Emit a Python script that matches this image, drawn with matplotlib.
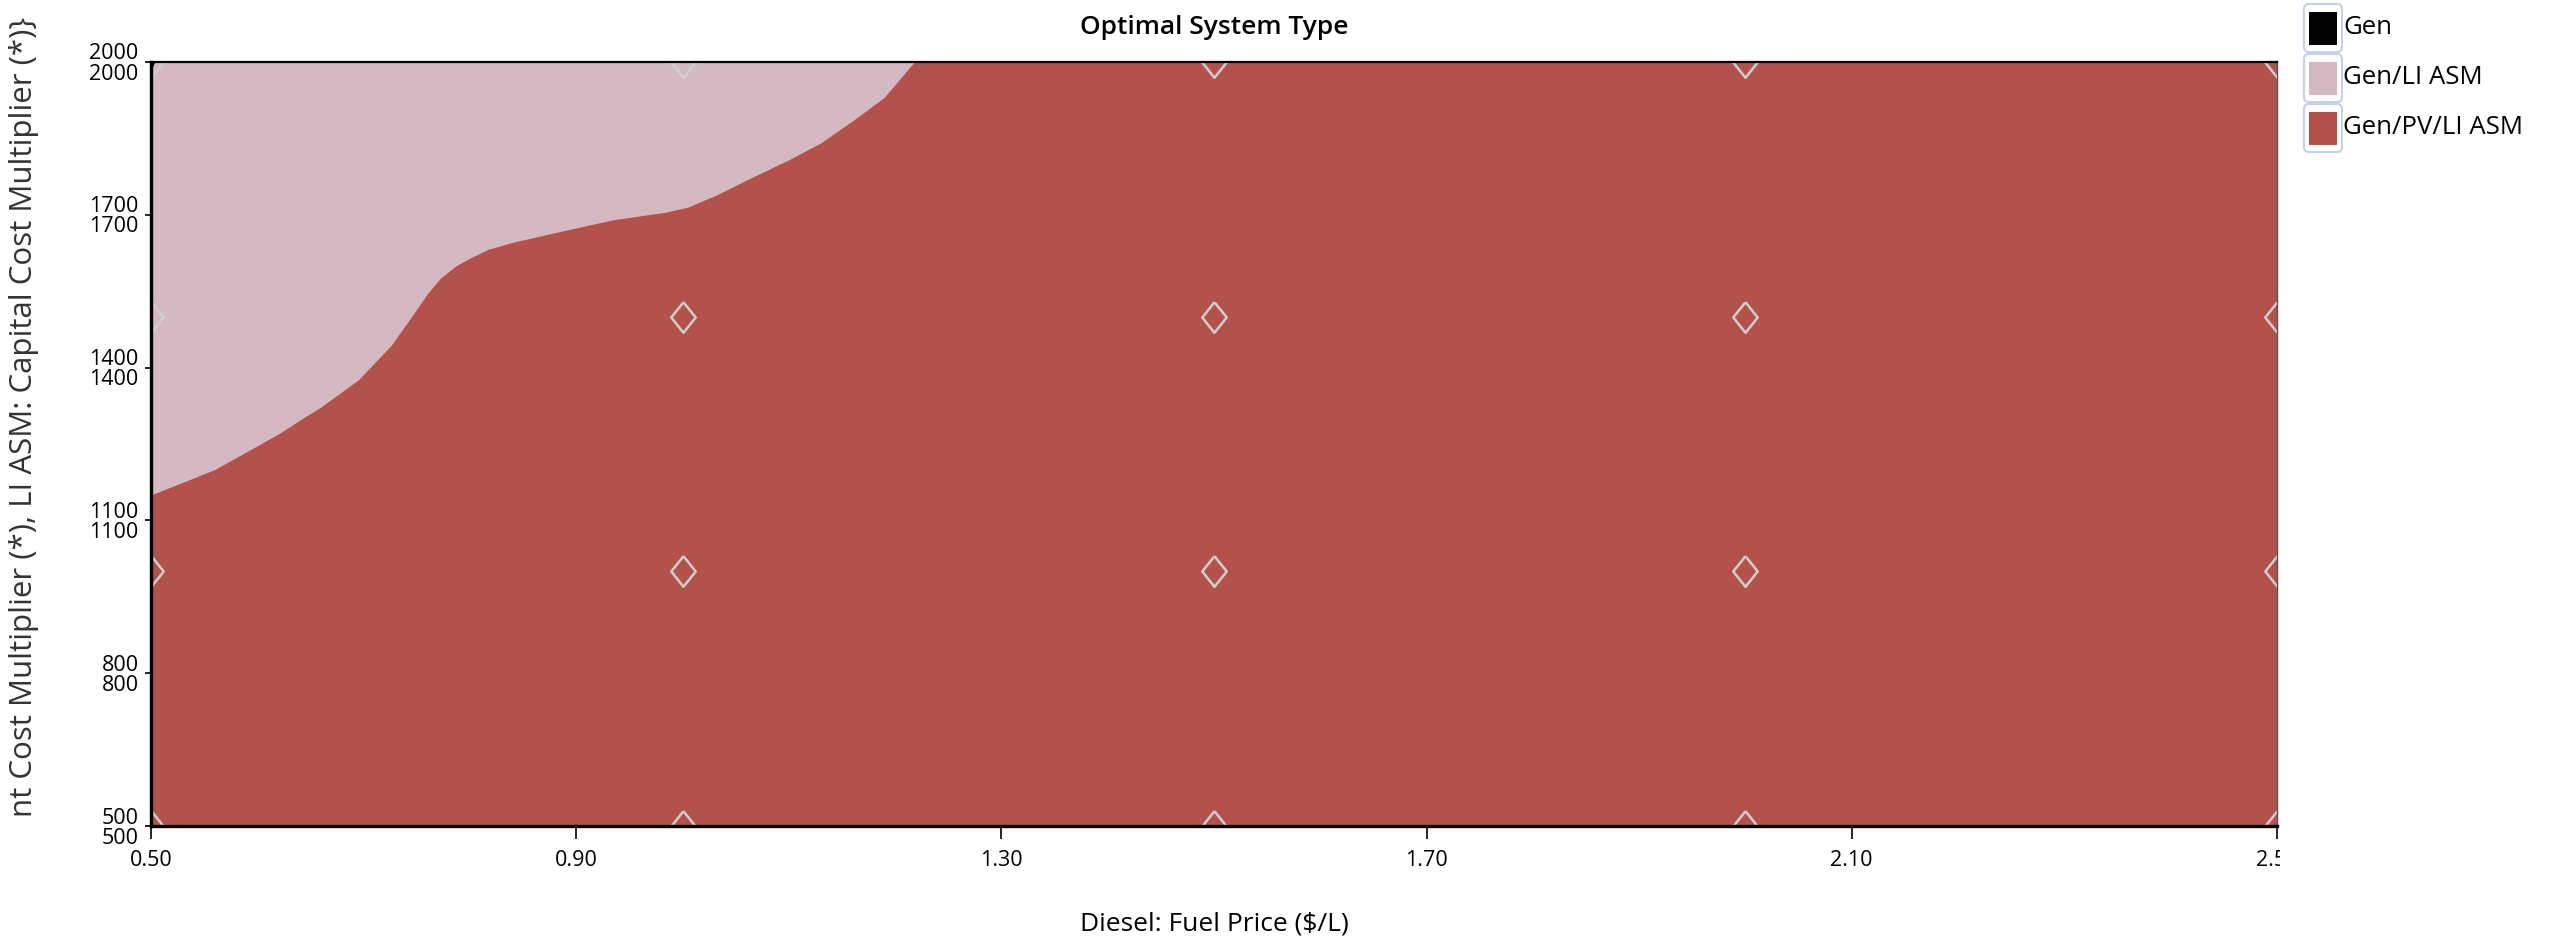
import matplotlib
matplotlib.use("Agg")
import matplotlib.pyplot as plt
import numpy as np
from matplotlib.patches import FancyBboxPatch, Rectangle
from matplotlib.transforms import Bbox, TransformedBbox

# sensitivity grid points (HOMER optimal system type plot)
fuel_price = [0.50, 1.00, 1.50, 2.00, 2.50]
capital_mult = [500, 1000, 1500, 2000]

# boundary between Gen/LI ASM (above) and Gen/PV/LI ASM (below)
boundary_price = [0.50, 0.53, 0.56, 0.59, 0.62, 0.64, 0.66, 0.695, 0.726, 0.745,
                  0.76, 0.772, 0.787, 0.80, 0.817, 0.84, 0.878, 0.934, 0.984, 1.005,
                  1.032, 1.06, 1.10, 1.13, 1.165, 1.19, 1.218]
boundary_mult = [1150, 1175, 1200, 1235, 1270, 1297, 1323, 1376, 1444, 1500,
                 1545, 1575, 1600, 1615, 1632, 1646, 1664, 1690, 1705, 1715,
                 1739, 1768, 1808, 1841, 1892, 1931, 2000]

system_types = ["Gen", "Gen/LI ASM", "Gen/PV/LI ASM"]
type_colors = ["#000000", "#d4b9c2", "#b2524a"]

xtick_values = [0.50, 0.90, 1.30, 1.70, 2.10, 2.50]
ytick_values = [500, 800, 1100, 1400, 1700, 2000]

plt.rcParams["font.family"] = ["Open Sans", "DejaVu Sans"]

fig = plt.figure(figsize=(25.52, 9.43), dpi=100)
ax = fig.add_axes([0.0592, 0.124, 0.8330, 0.8103])

# background region: Gen/PV/LI ASM, then Gen/LI ASM above the boundary
ax.fill_between([fuel_price[0], fuel_price[-1]], capital_mult[0], capital_mult[-1],
                color=type_colors[2], lw=0)
ax.fill_between(boundary_price, boundary_mult, capital_mult[-1],
                color=type_colors[1], lw=0)

# tiny Gen spot in the top-left corner
ax.plot(fuel_price[0], capital_mult[-1], marker="v", color=type_colors[0],
        ms=8, ls="none")

# hollow diamonds at the simulated sensitivity points
diamond = [(0, 1), (0.8, 0), (0, -1), (-0.8, 0), (0, 1)]
gx, gy = np.meshgrid(fuel_price, capital_mult)
ax.plot(gx.ravel(), gy.ravel(), ls="none", marker=diamond, ms=22,
        mfc="none", mec="#cfcfcf", mew=1.8)

ax.set_xlim(fuel_price[0], fuel_price[-1])
ax.set_ylim(capital_mult[0], capital_mult[-1])

ax.set_xticks(xtick_values)
ax.set_xticklabels([f"{v:.2f}" for v in xtick_values])
ax.set_yticks(ytick_values)
ax.set_yticklabels([f"{v}\n{v}" for v in ytick_values])
ax.tick_params(axis="x", direction="out", length=9, width=1.2, pad=8,
               labelsize=15.5, colors="black")
ax.tick_params(axis="y", direction="out", length=4, width=1.2, pad=5,
               labelsize=15.5, colors="black")
for lab in ax.get_yticklabels():
    lab.set_linespacing(0.95)

# last x label is cut at the plot edge like the original
clip = TransformedBbox(Bbox([[0, 0], [0.8935, 1]]), fig.transFigure)
for lab in ax.get_xticklabels():
    lab.set_clip_box(clip)
    lab.set_clip_on(True)

for side, lw, col in [("left", 2.4, "black"), ("bottom", 2.4, "black"),
                      ("top", 1.6, "black"), ("right", 1.0, "#555555")]:
    ax.spines[side].set_linewidth(lw)
    ax.spines[side].set_color(col)

cx = 0.0592 + 0.8330 / 2
fig.text(cx, 0.9706, "Optimal System Type", ha="center", va="center",
         fontsize=19, fontweight="semibold")
fig.text(cx, 0.020, "Diesel: Fuel Price ($/L)", ha="center", va="center",
         fontsize=19)
ylab = fig.text(0.0096, 0.558,
                "nt Cost Multiplier (*), LI ASM: Capital Cost Multiplier (*)}",
                rotation=90, ha="center", va="center", fontsize=22.5,
                color="#333333")
ylab.set_clip_box(TransformedBbox(Bbox([[0, 0.118], [0.05, 1]]), fig.transFigure))
ylab.set_clip_on(True)

# legend with framed swatches
fig_h = 9.43
for i, (name, col) in enumerate(zip(system_types, type_colors)):
    yc = fig_h - 0.28 - 0.50 * i
    frame = FancyBboxPatch((23.04, yc - 0.24), 0.38, 0.48,
                           boxstyle="round,pad=0,rounding_size=0.05",
                           transform=fig.dpi_scale_trans, fc="white",
                           ec="#c3d2e6", lw=1.5)
    fig.add_artist(frame)
    fig.add_artist(Rectangle((23.09, yc - 0.17), 0.28, 0.33, fc=col, ec="none",
                             transform=fig.dpi_scale_trans))
    fig.text(23.43 / 25.52, yc / fig_h, name, ha="left", va="center",
             fontsize=18.5)

fig.savefig("out.png", dpi=100)
